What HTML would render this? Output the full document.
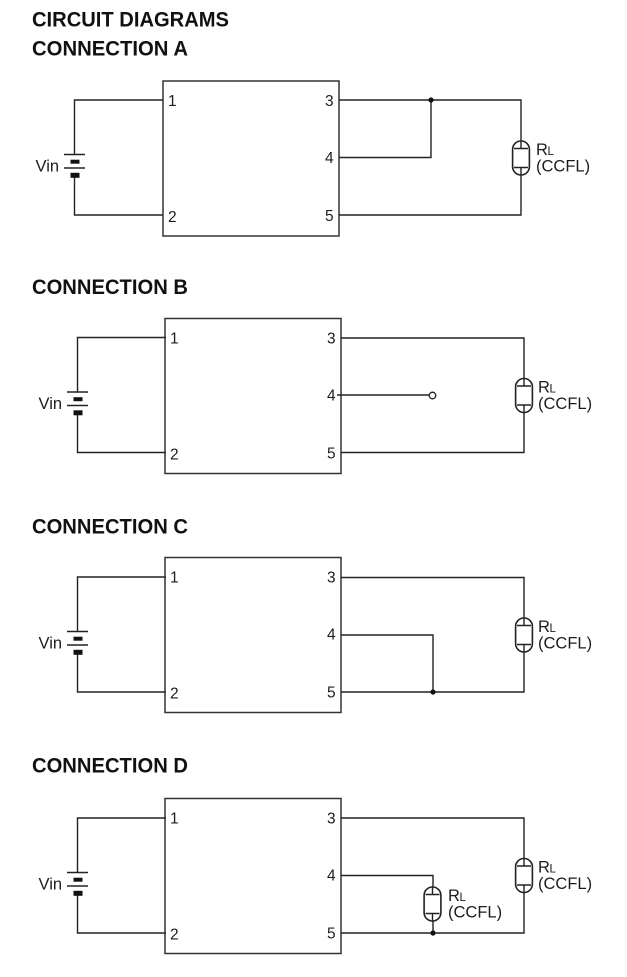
<!DOCTYPE html>
<html><head><meta charset="utf-8"><style>
html,body{margin:0;padding:0;background:#fff}
svg{display:block;filter:blur(.35px)}
text{font-family:"Liberation Sans",sans-serif;fill:#1c1c1c}
.h{font-size:21px;font-weight:bold;fill:#111}
.n{font-size:15.5px}
.t{font-size:16.5px}
.w{fill:none;stroke:#222;stroke-width:1.4}
.b{fill:none;stroke:#333;stroke-width:1.5}
</style></head><body>
<svg width="627" height="977" viewBox="0 0 627 977" xmlns="http://www.w3.org/2000/svg">
<defs>
<g id="box">
<rect class="b" x="163" y="81" width="176" height="155"/>
<text class="n" x="168" y="106">1</text>
<text class="n" x="168" y="222">2</text>
<text class="n" x="325" y="106">3</text>
<text class="n" x="325" y="163">4</text>
<text class="n" x="325" y="221">5</text>
</g>
<g id="bat">
<path class="w" d="M163 100H74.500V154M74.500 177V215H163"/>
<path class="w" d="M64 154.500H85M64 168H85"/>
<rect x="70.500" y="159.700" width="9" height="4" fill="#111"/>
<rect x="70.500" y="172.800" width="9" height="5" fill="#111"/>
<text class="t" x="35.500" y="171.500">Vin</text>
</g>
<g id="lamp">
<rect x="-8.400" y="-17" width="16.800" height="34" rx="8.400" ry="8.400" style="fill:#fff;stroke:#222;stroke-width:1.600"/>
<path class="w" d="M0 -17V-9.500M-7 -9.500H7M0 17V9.500M-7 9.500H7"/>
</g>
<g id="rl">
<text class="t" x="0" y="0">R</text>
<text x="11.500" y="0" font-size="11.500">L</text>
<text class="t" x="0" y="16.500">(CCFL)</text>
</g>
</defs>
<text class="h" x="32" y="26.500" textLength="197" lengthAdjust="spacingAndGlyphs">CIRCUIT DIAGRAMS</text>

<!-- A -->
<text class="h" x="32" y="55.500" textLength="156" lengthAdjust="spacingAndGlyphs">CONNECTION A</text>
<use href="#bat"/>
<use href="#box"/>
<path class="w" d="M339 100H521V215H339M339 157.500H431V100"/>
<circle cx="431" cy="100" r="2.600" fill="#111"/>
<use href="#lamp" x="521" y="158"/>
<use href="#rl" x="536" y="155"/>

<!-- B -->
<text class="h" x="32" y="294" textLength="156" lengthAdjust="spacingAndGlyphs">CONNECTION B</text>
<g transform="translate(3,237.500)"><use href="#bat"/></g>
<g transform="translate(2,237.500)"><use href="#box"/></g>
<path class="w" d="M341 338H524V452.500H341M337 395H429"/>
<circle cx="432.500" cy="395.500" r="3.300" fill="#fff" stroke="#222" stroke-width="1.300"/>
<use href="#lamp" x="524" y="395.500"/>
<use href="#rl" x="538" y="392.500"/>

<!-- C -->
<text class="h" x="32" y="533.500" textLength="156" lengthAdjust="spacingAndGlyphs">CONNECTION C</text>
<g transform="translate(3,477)"><use href="#bat"/></g>
<g transform="translate(2,476.500)"><use href="#box"/></g>
<path class="w" d="M341 577.500H524V692H341M341 635H433V692"/>
<circle cx="433" cy="692" r="2.600" fill="#111"/>
<use href="#lamp" x="524" y="635"/>
<use href="#rl" x="538" y="632"/>

<!-- D -->
<text class="h" x="32" y="772.500" textLength="156" lengthAdjust="spacingAndGlyphs">CONNECTION D</text>
<g transform="translate(3,718)"><use href="#bat"/></g>
<g transform="translate(2,717.500)"><use href="#box"/></g>
<path class="w" d="M341 818H524V933H341M341 875.500H433V933"/>
<circle cx="433" cy="933" r="2.600" fill="#111"/>
<use href="#lamp" x="524" y="875.500"/>
<use href="#rl" x="538" y="872.500"/>
<use href="#lamp" x="432.500" y="904"/>
<use href="#rl" x="448" y="901"/>
</svg>
</body></html>
